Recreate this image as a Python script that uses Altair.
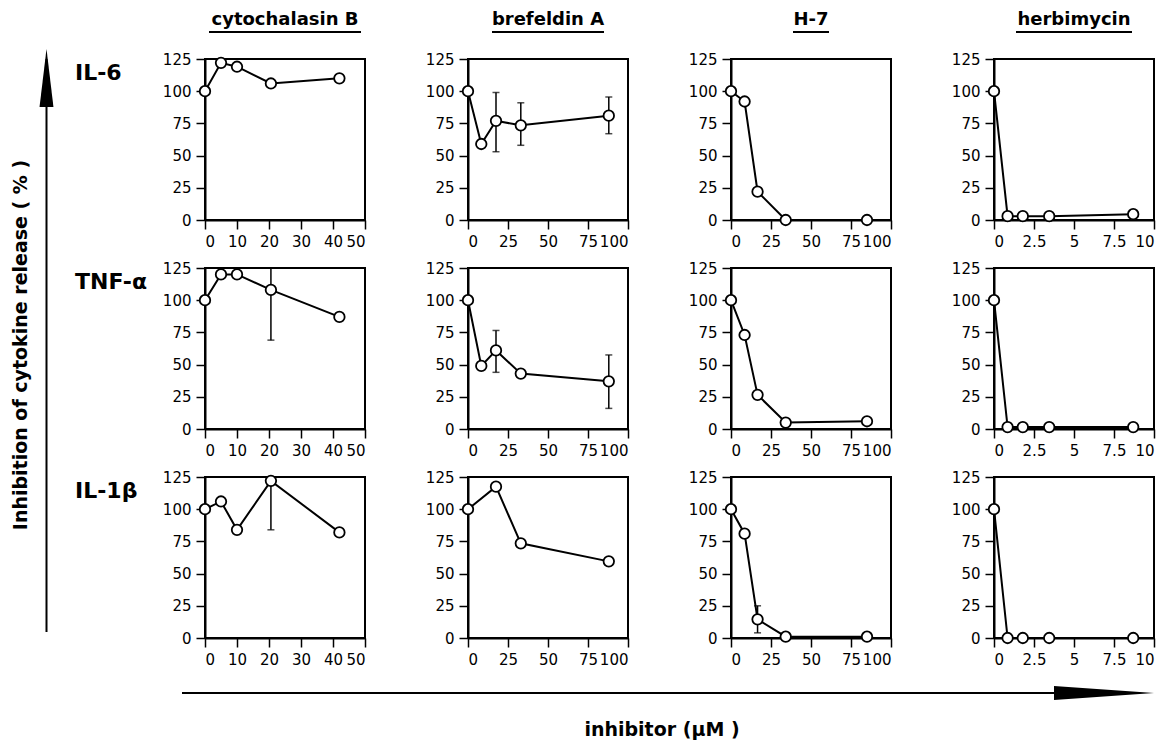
import altair as alt
import pandas as pd

# ---------------- data ----------------
drugs = ["cytochalasin B", "brefeldin A", "H-7", "herbimycin"]
cytokines = ["IL-6", "TNF-α", "IL-1β"]

cyto_x = [0, 5, 10, 20.6, 42]
bref_x = [0, 8.3, 17.5, 33, 88]
bref_x_il1 = [0, 17.5, 33, 88]
h7_x = [0, 8.5, 16.6, 34.2, 85]
herb_x = [0, 0.85, 1.8, 3.45, 8.7]

cyto_il6 = [100, 122, 119, 106, 110]
cyto_tnf = [100, 120, 120, 108, 87]
cyto_il1 = [100, 106, 84, 122, 82]
bref_il6 = [100, 59, 77, 73.5, 81]
bref_tnf = [100, 49, 61, 43, 37]
bref_il1 = [100, 117.5, 73.5, 59.5]
h7_il6 = [100, 92, 22, 0, 0]
h7_tnf = [100, 73, 26.5, 5, 6]
h7_il1 = [100, 81, 14.5, 1, 1]
herb_il6 = [100, 3, 3, 3, 4.5]
herb_tnf = [100, 1.5, 1.5, 1.5, 1.5]
herb_il1 = [100, 0, 0, 0, 0]

# error bars: (dose, low, high)
cyto_tnf_err = ([20.6], [69], [147])
cyto_il1_err = ([20.6], [84], [160])
bref_il6_err = ([17.5, 33, 88], [53, 58, 67], [99, 91, 95.5])
bref_tnf_err = ([17.5, 88], [44, 16], [76.5, 57.5])
h7_il1_err = ([16.6], [4], [25])

y_ticks = [0, 25, 50, 75, 100, 125]
x_domains = [[0, 50], [0, 100], [0, 100], [0, 10]]
x_ticks = [[0, 10, 20, 30, 40, 50], [0, 25, 50, 75, 100],
           [0, 25, 50, 75, 100], [0, 2.5, 5, 7.5, 10]]

y_title = "Inhibition of cytokine release ( % )"
x_title = "inhibitor (\u03bcM )"

series = {
    (0, 0): (cyto_x, cyto_il6, None),
    (1, 0): (cyto_x, cyto_tnf, cyto_tnf_err),
    (2, 0): (cyto_x, cyto_il1, cyto_il1_err),
    (0, 1): (bref_x, bref_il6, bref_il6_err),
    (1, 1): (bref_x, bref_tnf, bref_tnf_err),
    (2, 1): (bref_x_il1, bref_il1, None),
    (0, 2): (h7_x, h7_il6, None),
    (1, 2): (h7_x, h7_tnf, None),
    (2, 2): (h7_x, h7_il1, h7_il1_err),
    (0, 3): (herb_x, herb_il6, None),
    (1, 3): (herb_x, herb_tnf, None),
    (2, 3): (herb_x, herb_il1, None),
}

# ---------------- layout constants ----------------
W, H = 160, 161
BOLD = "DejaVu Sans"
title_half = {"cytochalasin B": 76, "brefeldin A": 56, "H-7": 18, "herbimycin": 58}


def text_layer(txt, x, y, size, align="center", angle=0, font=BOLD):
    return alt.Chart(pd.DataFrame({"t": [txt]})).mark_text(
        font=font, fontSize=size, fontWeight="bold", color="black",
        align=align, baseline="middle", angle=angle,
    ).encode(x=alt.value(x), y=alt.value(y), text="t:N")


def hrule(x1, x2, y, w=2):
    return alt.Chart(pd.DataFrame({"k": [0]})).mark_rule(
        color="black", strokeWidth=w).encode(
        x=alt.value(x1), x2=alt.value(x2), y=alt.value(y))


def vrule(x, y1, y2, w=2):
    return alt.Chart(pd.DataFrame({"k": [0]})).mark_rule(
        color="black", strokeWidth=w).encode(
        x=alt.value(x), y=alt.value(y1), y2=alt.value(y2))


def head(path, size, x, y):
    return alt.Chart(pd.DataFrame({"k": [0]})).mark_point(
        shape=path, filled=True, color="black", size=size, opacity=1,
        strokeWidth=0).encode(x=alt.value(x), y=alt.value(y))


def panel(r, c):
    xs, ys, err = series[(r, c)]
    xsc = alt.Scale(domain=x_domains[c], nice=False, zero=False)
    ysc = alt.Scale(domain=[0, 125], nice=False, zero=False)
    xax = alt.Axis(values=x_ticks[c], labelExpr="'' + datum.value", title=None, grid=False)
    yax = alt.Axis(values=y_ticks, labelExpr="'' + datum.value", title=None, grid=False)

    df = pd.DataFrame({"dose": xs, "value": ys})
    base = alt.Chart(df).encode(
        x=alt.X("dose:Q", scale=xsc, axis=xax),
        y=alt.Y("value:Q", scale=ysc, axis=yax),
    )
    layers = [base.mark_line(color="black", strokeWidth=2)]
    if err is not None:
        edf = pd.DataFrame({"dose": err[0], "lo": err[1], "hi": err[2]})
        eb = alt.Chart(edf)
        ex = alt.X("dose:Q", scale=xsc, axis=xax)
        layers.append(eb.mark_rule(color="black", strokeWidth=1.5, clip=True).encode(
            x=ex, y=alt.Y("lo:Q", scale=ysc, axis=yax), y2="hi:Q"))
        for f in ("lo", "hi"):
            layers.append(eb.mark_tick(color="black", orient="horizontal", size=7,
                                       thickness=1.5, clip=True).encode(
                x=ex, y=alt.Y(f"{f}:Q", scale=ysc, axis=yax)))
    layers.append(base.mark_point(shape="circle", filled=True, fill="white",
                                  stroke="black", strokeWidth=1.8, size=110,
                                  opacity=1))

    # annotations
    if r == 0:
        name = drugs[c]
        layers.append(text_layer(name, W / 2, -39, 18))
        layers.append(hrule(W / 2 - title_half[name], W / 2 + title_half[name], -27, 2))
    if c == 0:
        layers.append(text_layer(cytokines[r], -130, 14, 22, align="left"))
    if r == 0 and c == 0:
        layers.append(text_layer(y_title, -184, 286, 19, angle=270))
        layers.append(vrule(-158.5, 0, 573, 2))
        layers.append(head("M0,-1L0.24,1L-0.24,1Z", 3364, -158.5, 19))
    if r == 2 and c == 0:
        layers.append(hrule(-23, 900, 216, 2))
        layers.append(head("M1,0L-1,-0.14L-1,0.14Z", 10000, 899, 216))
        layers.append(text_layer(x_title, 457, 253, 19))

    return alt.layer(*layers).properties(width=W, height=H)


charts = [panel(r, c) for r in range(3) for c in range(4)]

chart = alt.concat(
    *charts, columns=4, spacing={"row": 48, "column": 103}, bounds="flush"
).properties(
    padding={"left": 3, "top": 2, "right": 0, "bottom": 0}, background="white"
).configure_view(
    stroke="black", strokeWidth=2
).configure_axis(
    domainColor="black", domainWidth=2, tickColor="black", tickWidth=1.5,
    tickSize=9, labelFont="DejaVu Sans", labelFontSize=15, labelColor="black",
    labelPadding=5,
)

chart.save("out.html", embed_options={"renderer": "svg", "actions": False})
